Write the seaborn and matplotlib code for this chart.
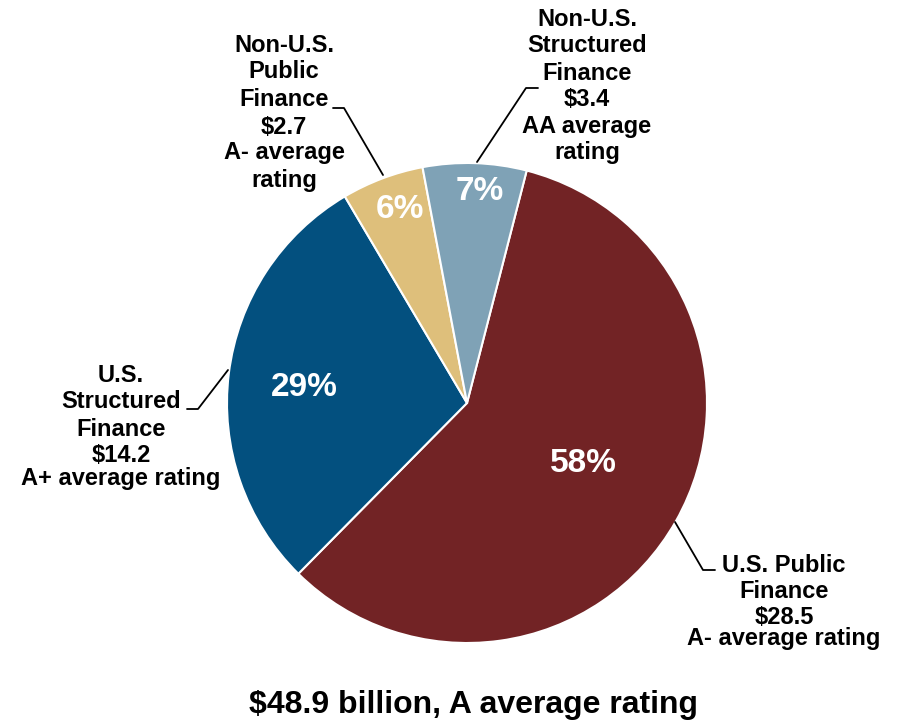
import matplotlib
matplotlib.use("Agg")
import matplotlib.pyplot as plt
import seaborn as sns

# ---- data ----
categories = ["U.S. Public Finance", "U.S. Structured Finance",
              "Non-U.S. Public Finance", "Non-U.S. Structured Finance"]
values = [28.5, 14.2, 2.7, 3.4]
ratings = ["A-", "A+", "A-", "AA"]
colors = ["#722325", "#03507F", "#DEBF7B", "#7FA2B6"]
title_text = "$48.9 billion, A average rating"

label_lines = [
    ["U.S. Public", "Finance", f"${values[0]}", f"{ratings[0]} average rating"],
    ["U.S.", "Structured", "Finance", f"${values[1]}", f"{ratings[1]} average rating"],
    ["Non-U.S.", "Public", "Finance", f"${values[2]}", f"{ratings[2]} average", "rating"],
    ["Non-U.S.", "Structured", "Finance", f"${values[3]}", f"{ratings[3]} average", "rating"],
]

# ---- layout (pixel coordinates, y measured from top) ----
W, H = 897, 721
label_x = [784, 121, 284, 587]
label_y = [[565, 592, 617, 639],
           [376, 402, 429, 456, 479],
           [45, 72, 99, 127, 153, 181],
           [19, 46, 73, 100, 126, 153]]
leaders = [
    [(675, 522), (703, 570), (715, 570)],
    [(187, 409), (198, 409), (228, 370)],
    [(333, 108), (344, 108), (383, 175)],
    [(538, 88), (526, 88), (477, 162)],
]
pct_pos = [(583, 464), (304, 388), (400, 209), (480, 192)]

sns.set_theme(style="white")
plt.rcParams["font.family"] = ["Liberation Sans", "DejaVu Sans"]
plt.rcParams["font.weight"] = "bold"

fig = plt.figure(figsize=(W / 100, H / 100), dpi=100)
ax = fig.add_axes([0, 0, 1, 1])


def Y(p):
    return H - p


wedges, texts, autotexts = ax.pie(
    values, colors=colors, startangle=75.6, counterclock=False,
    center=(467, Y(403)), radius=240, frame=True,
    autopct=lambda p: f"{p:.0f}%", pctdistance=0.65,
    wedgeprops=dict(edgecolor="white", linewidth=1.5),
    textprops=dict(color="white", fontsize=24, fontweight="bold"),
)
ax.set_xlim(0, W)
ax.set_ylim(0, H)
ax.axis("off")

for t, (px, py) in zip(autotexts, pct_pos):
    t.set_position((px, Y(py)))
    t.set_ha("center")
    t.set_va("center")

for lines, x, ys in zip(label_lines, label_x, label_y):
    for line, y in zip(lines, ys):
        ax.text(x, Y(y), line, ha="center", va="center", fontsize=17,
                fontweight="bold", color="black")

for pts in leaders:
    ax.plot([p[0] for p in pts], [Y(p[1]) for p in pts], color="black", lw=1.3)

ax.text(473, Y(705), title_text, ha="center", va="center", fontsize=23,
        fontweight="bold", color="black")

fig.savefig("out.png", dpi=100, facecolor="white")
